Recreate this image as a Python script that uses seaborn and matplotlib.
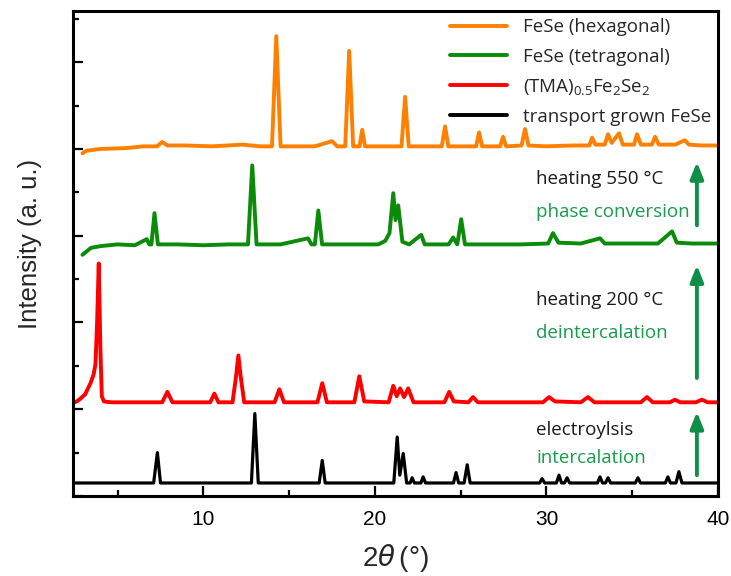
import matplotlib
matplotlib.use("Agg")
import matplotlib.pyplot as plt
from matplotlib.ticker import MultipleLocator
import seaborn as sns

# ---- XRD patterns: 2θ (deg) and intensity (a.u., above each trace's own baseline) ----
hex_2theta = [2.95, 3.2, 4.0, 5.5, 6.5, 7.3, 7.6, 7.9, 9.0, 10.5, 12.3, 13.3, 14.0, 14.25, 14.5,
              15.5, 16.5, 17.5, 17.8, 18.27, 18.5, 18.73, 19.1, 19.26, 19.42, 20.5, 21.55, 21.76,
              21.97, 23.0, 23.9, 24.09, 24.28, 25.0, 25.9, 26.07, 26.25, 27.3, 27.47, 27.65, 28.55,
              28.75, 28.95, 30.0, 31.5, 32.5, 32.66, 32.85, 33.4, 33.59, 33.8, 34.23, 34.45, 35.1,
              35.28, 35.5, 36.15, 36.33, 36.55, 37.5, 38.07, 38.3, 39.0, 40.0]
hex_int = [-6, -3, -1, 0, 2, 2, 7, 3, 3, 2, 4, 2, 2, 129, 2,
           2, 2, 8, 2, 2, 112, 2, 2, 21, 2, 2, 2, 59,
           2, 2, 2, 25, 2, 2, 2, 18, 2, 2, 13, 2, 3,
           22, 3, 2, 3, 3, 12, 4, 4, 16, 6, 17, 4, 4,
           16, 4, 4, 13, 4, 4, 9, 4, 3, 3]

tet_2theta = [2.95, 3.2, 3.45, 4.0, 5.0, 6.0, 6.7, 6.85, 6.97, 7.15, 7.35, 8.5, 10.0, 11.5, 12.6,
              12.85, 13.1, 14.5, 16.1, 16.3, 16.5, 16.7, 16.92, 18.5, 20.2, 20.6, 20.85, 21.07,
              21.2, 21.36, 21.6, 22.0, 22.7, 22.9, 24.3, 24.56, 24.8, 25.03, 25.25, 27.0, 28.5,
              30.1, 30.38, 30.7, 32.0, 33.12, 33.4, 35.0, 36.5, 37.32, 37.6, 38.5, 40.0]
tet_int = [-10, -6, -2, 0, 2, 1, 8, 2, 2, 38, 2, 2, 1, 2, 2,
           93, 2, 2, 9, 2, 2, 41, 2, 2, 2, 6, 15, 61,
           30, 47, 5, 2, 13, 2, 2, 10, 2, 31, 2, 2, 2,
           3, 15, 4, 3, 9, 3, 3, 3, 17, 4, 3, 3]

tma_2theta = [2.4, 2.7, 3.1, 3.42, 3.6, 3.71, 3.8, 3.9, 4.0, 4.08, 4.2, 4.6, 5.8, 7.6, 7.9, 8.2,
              9.5, 10.4, 10.64, 10.88, 11.7, 11.9, 12.04, 12.18, 12.38, 14.15, 14.43, 14.7, 16.65,
              16.93, 17.2, 18.0, 18.8, 19.09, 19.38, 20.8, 21.07, 21.27, 21.47, 21.7, 21.94, 22.25,
              23.5, 24.05, 24.33, 24.6, 25.45, 25.72, 26.0, 28.0, 29.8, 30.15, 30.5, 32.0, 32.42,
              32.8, 34.0, 35.5, 35.86, 36.2, 37.2, 37.49, 37.8, 38.7, 39.06, 39.4, 40.0]
tma_int = [0, 3, 10, 23, 33, 45, 90, 161, 60, 8, 2, 1, 1, 1, 13, 1,
           1, 1, 11, 1, 1, 30, 55, 30, 1, 1, 16, 1, 1,
           23, 1, 1, 1, 31, 2, 1, 20, 8, 17, 7, 17, 1,
           1, 1, 13, 2, 1, 7, 1, 1, 1, 7, 2, 1, 7,
           1, 1, 1, 7, 1, 1, 4, 1, 1, 4, 1, 1]

bulk_2theta = [2.4, 5.0, 7.1, 7.32, 7.5, 10.0, 12.8, 13.0, 13.2, 15.0, 16.75, 16.93, 17.1, 19.0,
               21.1, 21.3, 21.45, 21.65, 21.85, 22.05, 22.17, 22.3, 22.68, 22.81, 22.95, 24.58,
               24.73, 24.88, 25.2, 25.38, 25.55, 27.5, 29.6, 29.74, 29.9, 30.58, 30.73, 30.88,
               31.05, 31.2, 31.35, 32.97, 33.12, 33.27, 33.44, 33.59, 33.74, 35.18, 35.33, 35.48,
               36.93, 37.08, 37.23, 37.55, 37.72, 37.9, 40.0]
bulk_int = [1, 1, 1, 36, 1, 1, 1, 81, 1, 1, 1, 27, 1, 1,
            1, 54, 10, 35, 1, 1, 7, 1, 1, 8, 1, 1,
            13, 1, 1, 22, 1, 1, 1, 6, 1, 1, 10, 1,
            1, 7, 1, 1, 8, 1, 1, 7, 1, 1, 7, 1,
            1, 8, 1, 1, 14, 1, 1]

labels = ["FeSe (hexagonal)", "FeSe (tetragonal)",
          r"(TMA)$\mathregular{_{0.5}}$Fe$\mathregular{_2}$Se$\mathregular{_2}$",
          "transport grown FeSe"]

# ---- styling ----
sns.set_theme(style="ticks")
plt.rcParams["font.family"] = ["Liberation Sans", "DejaVu Sans"]
label_font = ["Open Sans", "DejaVu Sans"]

colors = ["#ff8000", "#0a8c0a", "#ff0000", "#000000"]
note_green = "#179c4c"
arrow_green = "#0f8f45"
stack = [401, 288, 107, 14]          # vertical offsets of the stacked traces

fig = plt.figure(figsize=(7.31, 5.76), dpi=100)
ax = fig.add_axes([73 / 731, 1 - 496 / 576, 645 / 731, 485 / 576])

series = [(hex_2theta, hex_int), (tet_2theta, tet_int),
          (tma_2theta, tma_int), (bulk_2theta, bulk_int)]
widths = [2.8, 2.8, 2.8, 2.3]
for (tt, inten), off, c, lab, lw in zip(series, stack, colors, labels, widths):
    sns.lineplot(x=tt, y=[v + off for v in inten], color=c, lw=lw, label=lab,
                 sort=False, estimator=None, ax=ax)

ax.set_xlim(2.4, 40)
ax.set_ylim(0, 559)
ax.xaxis.set_major_locator(MultipleLocator(10))
ax.xaxis.set_minor_locator(MultipleLocator(5))
ax.yaxis.set_major_locator(MultipleLocator(100))
ax.yaxis.set_minor_locator(MultipleLocator(50))
ax.tick_params(which="both", direction="in", width=1.6, colors="black")
ax.tick_params(which="major", length=7)
ax.tick_params(which="minor", length=4.5)
ax.tick_params(axis="x", labelsize=15, pad=10)
ax.tick_params(axis="y", labelleft=False)
for s in ax.spines.values():
    s.set_linewidth(2.2)
    s.set_color("black")

ax.set_xlabel(r"2$\theta\,$(°)", fontsize=20)
ax.xaxis.set_label_coords(0.5, -0.095)
ax.set_ylabel("Intensity (a. u.)", fontsize=18.5)
ax.yaxis.set_label_coords(-0.048, 0.52)

leg = ax.legend(loc="upper left", bbox_to_anchor=(0.585, 0.985), frameon=False,
                prop={"family": label_font, "size": 13.5}, handlelength=3.0,
                handletextpad=0.85, labelspacing=0.6, borderpad=0, borderaxespad=0)
for h in leg.get_lines():
    h.set_linewidth(2.8)

# process annotations between the traces
notes = [("heating 550 °C", 365, "#1a1a1a"), ("phase conversion", 327, note_green),
         ("heating 200 °C", 226, "#1a1a1a"), ("deintercalation", 188, note_green),
         ("electroylsis", 76, "#1a1a1a"), ("intercalation", 44, note_green)]
for txt, yv, c in notes:
    ax.text(29.4, yv, txt, color=c, fontsize=13.5, family=label_font, ha="left", va="center")

for y0, y1 in [(312, 385), (136, 266), (24, 97)]:
    ax.annotate("", xy=(38.77, y1), xytext=(38.77, y0),
                arrowprops=dict(arrowstyle="-|>,head_length=0.7,head_width=0.28",
                                color=arrow_green, lw=2.8, shrinkA=0, shrinkB=0,
                                mutation_scale=14))

fig.savefig("out.png", dpi=100)
